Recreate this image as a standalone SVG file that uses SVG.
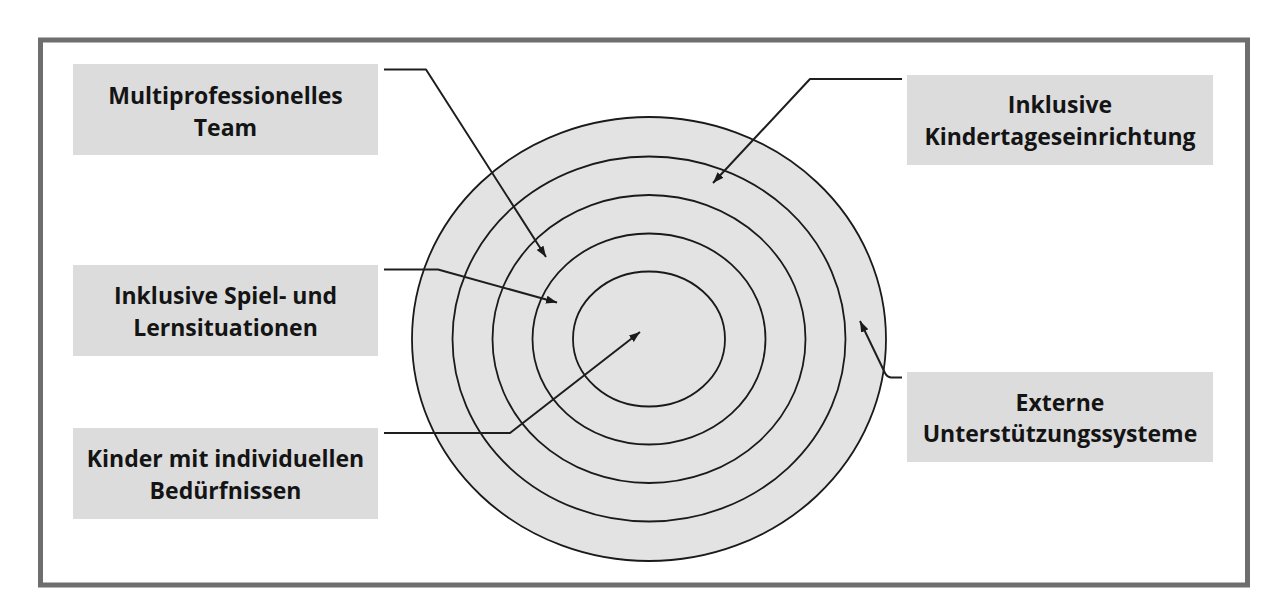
<svg xmlns="http://www.w3.org/2000/svg" width="1286" height="605" viewBox="0 0 1286 605">
  <style>
    .box { fill: #dcdcdd; }
    .lbl { font-family: "Open Sans", "Noto Sans", sans-serif; font-weight: 700; font-size: 23px; fill: #141414; text-anchor: middle; }
    .ring { fill: none; stroke: #1a1a1a; stroke-width: 1.8; }
    .disc { fill: #e3e3e4; stroke: #1a1a1a; stroke-width: 1.8; }
    .conn { fill: none; stroke: #1e1e1e; stroke-width: 2; stroke-linejoin: round; }
  </style>
  <defs>
    <marker id="arr" markerUnits="userSpaceOnUse" markerWidth="12" markerHeight="9" refX="11" refY="4" orient="auto">
      <path d="M0,0 L11,4 L0,8 z" fill="#1a1a1a"/>
    </marker>
  </defs>
  <rect x="0" y="0" width="1286" height="605" fill="#ffffff"/>
  <rect id="frame" x="40.5" y="40" width="1207" height="545" fill="none" stroke="#6e6e6e" stroke-width="5"/>

  <g id="rings">
    <ellipse class="disc" cx="649" cy="339" rx="237" ry="222"/>
    <ellipse class="ring" cx="649" cy="339" rx="196.5" ry="182.5"/>
    <ellipse class="ring" cx="649" cy="339" rx="156.5" ry="144"/>
    <ellipse class="ring" cx="649" cy="339" rx="116.5" ry="105.5"/>
    <ellipse class="ring" cx="649" cy="339" rx="76" ry="67.5"/>
  </g>

  <g id="connectors">
    <path class="conn" d="M384,69.5 L426,69.5 L546,257" marker-end="url(#arr)"/>
    <path class="conn" d="M384,269.5 L438,269.5 L557,302.5" marker-end="url(#arr)"/>
    <path class="conn" d="M384,433 L510,433 L640,332" marker-end="url(#arr)"/>
    <path class="conn" d="M902,79 L810,79 L713,183" marker-end="url(#arr)"/>
    <path class="conn" d="M902,377.5 L891,377.5 Q887,377 885,373 L860,321" marker-end="url(#arr)"/>
  </g>

  <g id="node-team">
    <rect class="box" x="73" y="64" width="305" height="91"/>
    <text class="lbl" x="225.5" y="104">Multiprofessionelles</text>
    <text class="lbl" x="225.5" y="136">Team</text>
  </g>
  <g id="node-spiel">
    <rect class="box" x="73" y="265" width="305" height="91"/>
    <text class="lbl" x="225.5" y="304">Inklusive Spiel- und</text>
    <text class="lbl" x="225.5" y="336">Lernsituationen</text>
  </g>
  <g id="node-kinder">
    <rect class="box" x="73" y="428" width="305" height="91"/>
    <text class="lbl" x="225.5" y="467">Kinder mit individuellen</text>
    <text class="lbl" x="225.5" y="499">Bedürfnissen</text>
  </g>
  <g id="node-kita">
    <rect class="box" x="907" y="75" width="306" height="90"/>
    <text class="lbl" x="1060" y="113">Inklusive</text>
    <text class="lbl" x="1060" y="145">Kindertageseinrichtung</text>
  </g>
  <g id="node-extern">
    <rect class="box" x="907" y="372" width="306" height="90"/>
    <text class="lbl" x="1060" y="411">Externe</text>
    <text class="lbl" x="1060" y="442">Unterstützungssysteme</text>
  </g>
</svg>
